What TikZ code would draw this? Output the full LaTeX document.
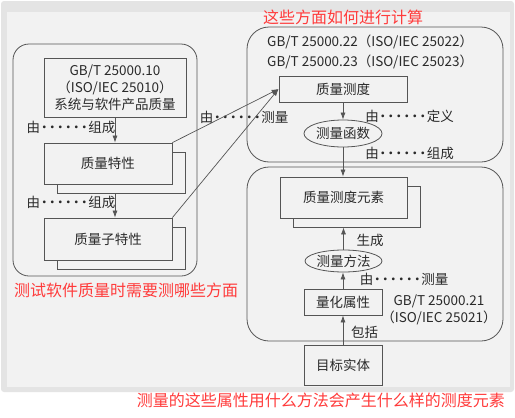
\documentclass[tikz,border=0pt]{standalone}
\usepackage{fontspec}
\setmainfont{Noto Sans CJK SC}
\usetikzlibrary{shapes.geometric,shadows,arrows.meta}
\definecolor{panelbg}{HTML}{F2F2F2}
\definecolor{framebg}{HTML}{E4E4E4}
\definecolor{linec}{HTML}{555555}
\definecolor{txtc}{HTML}{2A2A2A}
\definecolor{notered}{HTML}{FF3B3B}
\newcommand\dotrun{\hbox to 48pt{\leaders\hbox to 8pt{\hss·\hss}\hfill}}
\tikzset{
  box/.style={draw=linec, fill=panelbg, line width=0.8pt, text=txtc, align=center, inner sep=0pt, font=\fontsize{13.5}{17}\selectfont},
  stackbox/.style={box, copy shadow={shadow xshift=13pt, shadow yshift=-9pt, fill=panelbg, draw=linec, line width=0.8pt}},
  oval/.style={box, ellipse},
  group/.style={draw=linec, line width=0.8pt},
  lbl/.style={text=txtc, inner sep=0pt, font=\fontsize{13.5}{17}\selectfont, align=center},
  note/.style={text=notered, inner sep=0pt, font=\fontsize{16}{18}\selectfont},
  link/.style={draw=linec, line width=0.7pt, -{Latex[length=7pt,width=5pt]}}
}
\begin{document}
\begin{tikzpicture}[x=1pt, y=-1pt]
\useasboundingbox (0,0) rectangle (515,418);
\fill [white] (0,0) rectangle (515,418);
% panel behind everything
\fill [framebg, rounded corners=3pt] (1,1) rectangle (514,392);
\fill [panelbg] (7,12) rectangle (510,387);

% what to measure
\draw [group, rounded corners=16pt] (13,44) rectangle (197,276);
\node [box, minimum width=142pt, minimum height=59pt] (std10) at (115,87.5) {GB/T 25000.10\\（ISO/IEC 25010）\\系统与软件产品质量};
\node [stackbox, minimum width=128pt, minimum height=41pt] (qc) at (108,163.5) {质量特性};
\node [stackbox, minimum width=128pt, minimum height=42pt] (qsc) at (108,239) {质量子特性};
\node [lbl] (by1) at (71,127) {由\dotrun 组成};
\node [lbl] (by2) at (71,202) {由\dotrun 组成};
\node [note, anchor=west] (ask1) at (14,290) {测试软件质量时需要测哪些方面};

% how to compute
\draw [group, rounded corners=22pt] (247,27) rectangle (503,162);
\node [lbl, anchor=west] (std22) at (267,42) {GB/T 25000.22（ISO/IEC 25022）};
\node [lbl, anchor=west] (std23) at (267,62) {GB/T 25000.23（ISO/IEC 25023）};
\node [box, minimum width=128pt, minimum height=26pt] (mm) at (343,89) {质量测度};
\node [oval, minimum width=78pt, minimum height=27pt] (mf) at (343,133.5) {测量函数};
\node [lbl] (def) at (409.5,116) {由\dotrun 定义};
\node [lbl] (cons) at (409.5,153) {由\dotrun 组成};
\node [lbl] (meas1) at (244,117) {由\dotrun 测量};
\node [note, anchor=west] (ask2) at (263,17) {这些方面如何进行计算};

% what produces the elements
\draw [group, rounded corners=22pt] (247,167) rectangle (503,341);
\node [stackbox, minimum width=127pt, minimum height=41pt] (qme) at (343.5,197.5) {质量测度元素};
\node [oval, minimum width=77pt, minimum height=22pt] (mth) at (343.5,261) {测量方法};
\node [box, minimum width=78pt, minimum height=26pt] (qa) at (343,302) {量化属性};
\node [box, minimum width=78pt, minimum height=40pt] (te) at (343,365) {目标实体};
\node [lbl] (gen) at (370,240) {生成};
\node [lbl] (meas2) at (404,279) {由\dotrun 测量};
\node [lbl] (std21) at (439,310) {GB/T 25000.21\\（ISO/IEC 25021）};
\node [lbl] (incl) at (364.5,332) {包括};
\node [note, anchor=east] (ask3) at (505,400) {测量的这些属性用什么方法会产生什么样的测度元素};

% connectors
\coordinate (qcb) at ([yshift=-9pt]qc.south);
\coordinate (qmeb) at ([yshift=-9pt]qme.south);
\draw [link] (std10.south) -- (std10.south |- qc.north);
\draw [link] (qcb -| std10.south) -- (std10.south |- qsc.north);
\draw [link] (qc.north east) -- (mm.west);
\draw [link] (qsc.north east) -- (mm.west);
\draw [link] (mm.south) -- (mf.north);
\draw [link] (mf.south) -- (mf.south |- qme.north);
\draw [link] (mth.north) -- (mth.north |- qmeb);
\draw [link] (qa.north) -- (qa.north |- mth.south);
\draw [link] (te.north) -- (qa.south);
\end{tikzpicture}
\end{document}
